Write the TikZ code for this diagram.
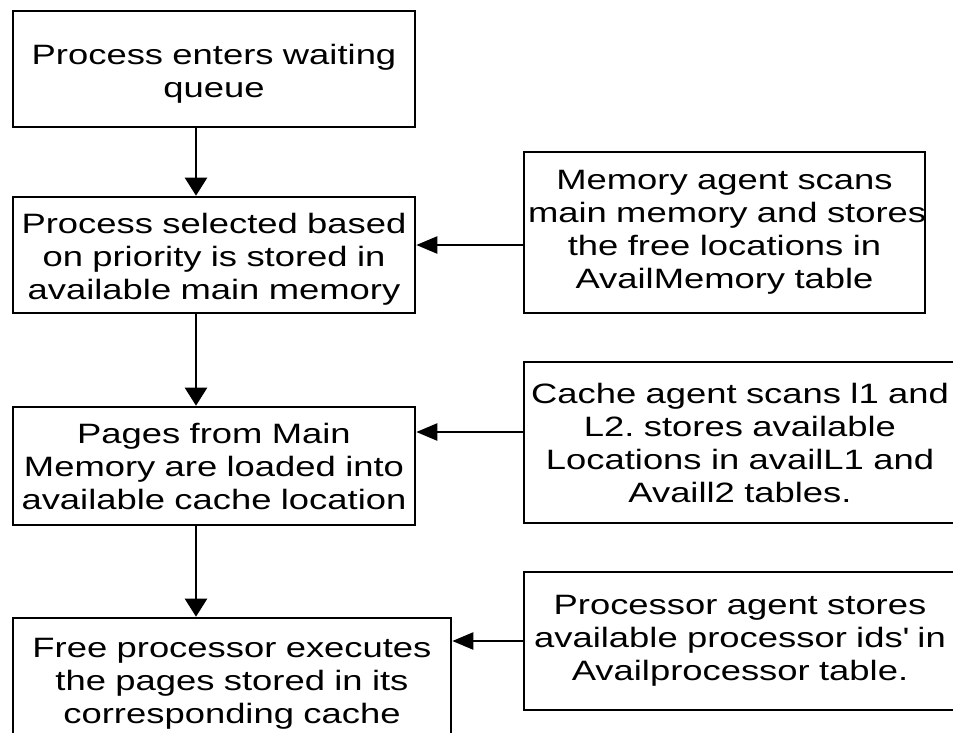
\documentclass[tikz,border=0pt]{standalone}
\usepackage{fontspec}
\setmainfont{Liberation Sans}[FakeStretch=1.3]
\usetikzlibrary{arrows.meta}
\frenchspacing
\hyphenpenalty=10000
\exhyphenpenalty=10000
\tikzset{
  box/.style={draw=black, line width=2.6pt, rectangle, inner sep=0pt, align=center,
    font=\fontsize{28}{33}\selectfont},
  vflow/.style={line width=2.4pt, -{Triangle[width=22pt,length=18pt]}},
  hflow/.style={line width=2.4pt, -{Triangle[width=17pt,length=21pt]}},
}
\begin{document}
\begin{tikzpicture}[x=1pt,y=-1pt]
\useasboundingbox (0,0) rectangle (953,732);
\clip (0,0) rectangle (953,732);
\node[box, minimum width=402pt, minimum height=116pt, text width=392pt] (A) at (214,69) {\rule{0pt}{30pt}Process enters waiting\\queue};
\node[box, minimum width=402pt, minimum height=116pt, text width=392pt] (B) at (214,255) {\rule{0pt}{28pt}Process selected based\\on priority is stored in\\available main memory};
\node[box, minimum width=402pt, minimum height=118pt, text width=392pt] (C) at (214,466) {Pages from Main\\Memory are loaded into\\available cache location};
\node[box, minimum width=438pt, minimum height=124pt, text width=428pt] (D) at (232,680) {\rule{0pt}{26pt}Free processor executes\\the pages stored in its\\corresponding cache};
\node[box, minimum width=401pt, minimum height=161pt, text width=393pt] (R1) at (724.5,232.5) {Memory agent scans\\\mbox{main memory and stores}\\the free locations in\\AvailMemory table};
\node[box, minimum width=432pt, minimum height=161pt, text width=422pt] (R2) at (740,442.5) {Cache agent scans l1 and\\L2. stores available\\Locations in availL1 and\\Availl2 tables.};
\node[box, minimum width=432pt, minimum height=138pt, text width=422pt] (R3) at (740,641) {Processor agent stores\\available processor ids\textquotesingle{} in\\Availprocessor table.};
\coordinate (vx) at (196,0);
\coordinate (h1) at (0,245);
\coordinate (h2) at (0,432);
\coordinate (h3) at (0,641);
\draw[vflow] (A.south -| vx) -- (B.north -| vx);
\draw[vflow] (B.south -| vx) -- (C.north -| vx);
\draw[vflow] (C.south -| vx) -- (D.north -| vx);
\draw[hflow] (R1.west |- h1) -- (B.east |- h1);
\draw[hflow] (R2.west |- h2) -- (C.east |- h2);
\draw[hflow] (R3.west |- h3) -- (D.east |- h3);
\end{tikzpicture}
\end{document}
